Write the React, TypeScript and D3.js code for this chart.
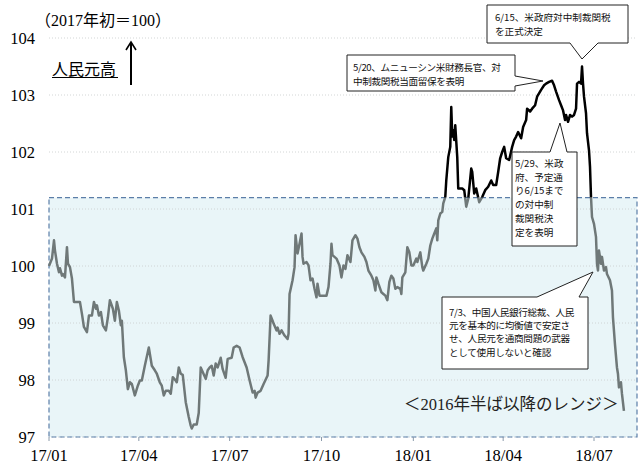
import React from "react";
import * as d3 from "d3";

// ---- data ----
const dates2017 = [
  "2017-01-01","2017-01-04","2017-01-06","2017-01-07","2017-01-09","2017-01-11","2017-01-12","2017-01-14","2017-01-15","2017-01-17",
  "2017-01-19","2017-01-20","2017-01-22","2017-01-24","2017-01-26","2017-02-01","2017-02-03","2017-02-05","2017-02-08","2017-02-10",
  "2017-02-13","2017-02-15","2017-02-17","2017-02-18","2017-02-20","2017-02-22","2017-02-24","2017-02-27","2017-03-01","2017-03-03",
  "2017-03-06","2017-03-08","2017-03-10","2017-03-12","2017-03-14","2017-03-15","2017-03-17","2017-03-19","2017-03-21","2017-03-23",
  "2017-03-25","2017-03-28","2017-03-31","2017-04-02","2017-04-04","2017-04-07","2017-04-11","2017-04-14","2017-04-17","2017-04-19",
  "2017-04-22","2017-04-24","2017-04-26","2017-04-28","2017-05-01","2017-05-03","2017-05-05","2017-05-08","2017-05-09","2017-05-11",
  "2017-05-13","2017-05-15","2017-05-18","2017-05-21","2017-05-23","2017-05-24","2017-05-26","2017-05-29","2017-05-31","2017-06-02",
  "2017-06-04","2017-06-07","2017-06-09","2017-06-11","2017-06-13","2017-06-15","2017-06-17","2017-06-19","2017-06-22","2017-06-24",
  "2017-06-27","2017-06-29","2017-07-03","2017-07-05","2017-07-08","2017-07-11","2017-07-14","2017-07-18","2017-07-21","2017-07-24",
  "2017-07-26","2017-07-27","2017-07-29","2017-08-01","2017-08-04","2017-08-08","2017-08-09","2017-08-11","2017-08-13","2017-08-14",
  "2017-08-17","2017-08-18","2017-08-20","2017-08-22","2017-08-25","2017-08-28","2017-08-29","2017-08-30","2017-09-02","2017-09-04",
  "2017-09-05","2017-09-07","2017-09-09","2017-09-11","2017-09-12","2017-09-13","2017-09-16","2017-09-18","2017-09-20","2017-09-22",
  "2017-09-24","2017-09-26","2017-09-27","2017-09-29","2017-10-06","2017-10-08","2017-10-10","2017-10-11","2017-10-12","2017-10-16",
  "2017-10-19","2017-10-21","2017-10-23","2017-10-25","2017-10-27","2017-10-30","2017-11-01","2017-11-04","2017-11-06","2017-11-08",
  "2017-11-10","2017-11-13","2017-11-15","2017-11-17","2017-11-20","2017-11-22","2017-11-24","2017-11-25","2017-11-27","2017-11-30",
  "2017-12-02","2017-12-04","2017-12-06","2017-12-08","2017-12-10","2017-12-12","2017-12-14","2017-12-16","2017-12-19","2017-12-20",
  "2017-12-21","2017-12-24","2017-12-26","2017-12-28","2017-12-30",
];
const values2017 = [
  100.0,100.13,100.45,100.27,100.04,99.89,99.96,99.83,99.86,99.8,
  100.33,100.04,99.98,99.78,99.37,99.37,99.16,98.93,98.84,99.13,
  99.13,99.37,99.25,99.31,99.13,99.19,98.96,98.87,99.1,99.4,
  99.25,99.04,99.37,99.22,98.96,99.04,98.4,98.17,97.84,97.96,
  97.93,97.73,97.9,97.99,97.99,98.25,98.57,98.25,98.17,98.11,
  97.96,97.9,97.73,97.81,97.81,97.76,98.05,97.99,97.96,98.22,
  98.11,98.09,97.61,97.35,97.2,97.15,97.22,97.22,97.42,98.22,
  98.14,98.02,98.17,98.22,98.25,98.08,98.29,98.22,98.39,98.19,
  98.04,98.37,98.39,98.57,98.6,98.57,98.4,98.22,97.99,97.78,
  97.81,97.69,97.78,97.81,97.93,98.08,98.34,99.13,99.04,98.99,
  98.87,98.92,98.81,98.87,98.78,98.72,98.81,99.51,99.75,99.98,
  100.54,100.22,100.39,100.57,100.16,100.04,100.07,100.01,99.75,99.78,
  99.6,99.45,99.69,99.48,99.48,99.63,100.04,100.39,100.19,100.13,
  100.01,99.8,100.01,99.95,100.19,100.07,100.45,100.54,100.48,100.33,
  100.24,100.16,100.07,99.92,99.83,99.75,99.57,99.8,99.69,99.54,
  99.51,99.48,99.4,99.72,99.83,99.78,99.6,99.63,99.6,99.51,
  99.8,99.89,100.33,100.24,100.01,
];
const dates2018 = [
  "2018-01-01","2018-01-04","2018-01-05","2018-01-08","2018-01-10","2018-01-11","2018-01-14","2018-01-16","2018-01-18","2018-01-20",
  "2018-01-22","2018-01-24","2018-01-25","2018-01-26","2018-01-28","2018-01-30","2018-01-31","2018-02-02","2018-02-03","2018-02-05",
  "2018-02-07","2018-02-08","2018-02-09","2018-02-10","2018-02-11","2018-02-12","2018-02-14","2018-02-15","2018-02-19","2018-02-21",
  "2018-02-23","2018-02-25","2018-02-28","2018-03-01","2018-03-03","2018-03-05","2018-03-08","2018-03-11","2018-03-14","2018-03-17",
  "2018-03-20","2018-03-22","2018-03-25","2018-03-27","2018-03-29","2018-03-31","2018-04-02","2018-04-04","2018-04-07","2018-04-10",
  "2018-04-12","2018-04-14","2018-04-16","2018-04-19","2018-04-21","2018-04-24","2018-04-25","2018-04-28","2018-04-30","2018-05-03",
  "2018-05-05","2018-05-09","2018-05-12","2018-05-14","2018-05-17","2018-05-20","2018-05-22","2018-05-24","2018-05-27","2018-05-29",
  "2018-05-31","2018-06-02","2018-06-03","2018-06-05","2018-06-07","2018-06-09","2018-06-11","2018-06-13","2018-06-14","2018-06-16",
  "2018-06-18","2018-06-19","2018-06-20","2018-06-21","2018-06-23","2018-06-24","2018-06-26","2018-06-27","2018-06-28","2018-06-29",
  "2018-07-01","2018-07-03","2018-07-04","2018-07-05","2018-07-06","2018-07-08","2018-07-09","2018-07-11","2018-07-13","2018-07-14",
  "2018-07-17","2018-07-19","2018-07-20","2018-07-22","2018-07-24","2018-07-25","2018-07-26","2018-07-28","2018-07-29","2018-07-31",
];
const values2018 = [
  100.01,100.13,100.07,100.24,99.98,99.92,100.04,100.13,100.36,100.48,
  100.57,100.66,100.45,100.8,100.92,100.95,101.1,101.21,101.5,101.91,
  102.09,102.79,102.27,102.38,102.21,102.47,101.91,101.36,101.36,101.33,
  101.04,101.18,101.71,101.65,101.27,101.36,101.12,101.21,101.33,101.39,
  101.5,101.42,101.42,101.65,101.89,102.0,102.09,101.89,101.86,102.09,
  102.21,102.27,102.35,102.24,102.44,102.56,102.76,102.71,102.76,102.82,
  102.97,103.09,103.17,103.2,103.23,103.25,103.17,103.06,102.91,102.82,
  102.73,102.56,102.65,102.53,102.65,102.62,102.65,102.76,103.2,103.23,
  103.2,103.5,103.2,102.97,102.68,102.33,102.03,101.74,101.21,100.86,
  100.74,100.51,100.04,99.92,100.27,100.04,100.16,99.92,99.98,99.86,
  99.75,99.57,99.1,98.63,98.22,98.11,97.87,97.96,97.76,97.46,
];
const yTicks = [97, 98, 99, 100, 101, 102, 103, 104];
const xTickDates = ["2017-01-01","2017-04-01","2017-07-01","2017-10-01","2018-01-01","2018-04-01","2018-07-01"];
const rangeLow = 97;
const rangeHigh = 101.2;

const unitLabel = "（2017年初＝100）";
const directionLabel = "人民元高";
const rangeLabel = "＜2016年半ば以降のレンジ＞";
const note615 = ["6/15、米政府対中制裁関税", "を正式決定"];
const note520 = ["5/20、ムニューシン米財務長官、対", "中制裁関税当面留保を表明"];
const note529 = ["5/29、米政", "府、予定通", "り6/15まで", "の対中制", "裁関税決", "定を表明"];
const note703 = ["7/3、中国人民銀行総裁、人民", "元を基本的に均衡値で安定さ", "せ、人民元を通商問題の武器", "として使用しないと確認"];

const parse = d3.timeParse("%Y-%m-%d");
const series = [
  ...dates2017.map((d, i) => ({ date: parse(d) as Date, value: values2017[i] })),
  ...dates2018.map((d, i) => ({ date: parse(d) as Date, value: values2018[i] })),
];

const W = 638, H = 464;
const LEFT = 49, RIGHT = 637;
const SERIF = "'Liberation Serif', 'Times New Roman', serif";
const CJK = "'Noto Sans CJK JP', sans-serif";

function callout(box: [number, number, number, number], side: string, b1: number, b2: number, tip: [number, number]) {
  const [x0, y0, x1, y1] = box;
  if (side === "bottom")
    return `M${x0},${y0}H${x1}V${y1}H${b2}L${tip[0]},${tip[1]}L${b1},${y1}H${x0}Z`;
  if (side === "right")
    return `M${x0},${y0}H${x1}V${b1}L${tip[0]},${tip[1]}L${x1},${b2}V${y1}H${x0}Z`;
  return `M${x0},${y0}H${b1}L${tip[0]},${tip[1]}L${b2},${y0}H${x1}V${y1}H${x0}Z`;
}

// split into runs: ASCII digits in serif, other chars in CJK font
function mixedRuns(s: string) {
  const runs: { t: string; ascii: boolean }[] = [];
  for (const ch of s) {
    const ascii = ch.charCodeAt(0) < 128;
    const last = runs[runs.length - 1];
    if (last && last.ascii === ascii) last.t += ch;
    else runs.push({ t: ch, ascii });
  }
  return runs;
}

function MixedText(props: { x: number; y: number; size: number; text: string; fill: string }) {
  return (
    <text x={props.x} y={props.y} fontSize={props.size} fill={props.fill}>
      {mixedRuns(props.text).map((r, i) => (
        <tspan key={i} fontFamily={r.ascii ? SERIF : CJK}>{r.t}</tspan>
      ))}
    </text>
  );
}

export default function App() {
  const x = d3.scaleTime().domain([parse("2017-01-01") as Date, parse("2018-07-01") as Date]).range([LEFT, 594]);
  const y = d3.scaleLinear().domain([97, 104]).range([437, 38]);
  const line = d3.line<{ date: Date; value: number }>().x((d) => x(d.date)).y((d) => y(d.value));
  const path = line(series) || "";
  const yTop = y(rangeHigh);

  const notes = [
    { lines: note615, d: callout([487, 5, 628, 43], "bottom", 570, 598, [582, 59]), tx: 495, ty: 21, lh: 14, ls: 0 },
    { lines: note520, d: callout([347, 55, 515, 91], "right", 76, 86, [543, 81]), tx: 353, ty: 71, lh: 14, ls: -0.35 },
    { lines: note529, d: callout([512, 152, 577, 246], "top", 550, 567, [560, 123]), tx: 515, ty: 167, lh: 13.7, ls: 0 },
    { lines: note703, d: callout([442, 297, 588, 369], "top", 537, 579, [593, 272]), tx: 449, ty: 315.5, lh: 13.4, ls: -0.3 },
  ];

  return (
    <svg width={W} height={H} style={{ position: "absolute", left: 0, top: 0, background: "#fff" }}>
      <defs>
        <clipPath id="above"><rect x={0} y={0} width={W} height={yTop} /></clipPath>
        <clipPath id="below"><rect x={0} y={yTop} width={W} height={H - yTop} /></clipPath>
      </defs>
      {/* range band */}
      <rect x={LEFT} y={yTop} width={RIGHT - LEFT} height={y(rangeLow) - yTop} fill="#e9f5f8" />
      {/* gridlines */}
      {yTicks.map((t) => (
        <line key={t} x1={LEFT} x2={RIGHT} y1={y(t)} y2={y(t)} stroke="#c8cccc" strokeWidth={0.8} strokeDasharray="1,2" />
      ))}
      {/* band dashed border */}
      <rect x={LEFT} y={yTop} width={RIGHT - LEFT} height={y(rangeLow) - yTop} fill="none" stroke="#5b7ea8" strokeWidth={1.2} strokeDasharray="5,3" />
      {/* x ticks */}
      {xTickDates.map((d) => {
        const xx = x(parse(d) as Date);
        return (
          <g key={d}>
            <line x1={xx} x2={xx} y1={437} y2={441} stroke="#8a9aaa" strokeWidth={1} />
            <text x={xx} y={461} textAnchor="middle" fontFamily={SERIF} fontSize={16.5} fill="#000">
              {d3.timeFormat("%y/%m")(parse(d) as Date)}
            </text>
          </g>
        );
      })}
      {/* y labels */}
      {yTicks.map((t) => (
        <text key={t} x={35} y={y(t)} dy="0.35em" textAnchor="end" fontFamily={SERIF} fontSize={16.5} fill="#000">{t}</text>
      ))}
      {/* series */}
      <path d={path} fill="none" stroke="#6f7878" strokeWidth={2.5} strokeLinejoin="round" clipPath="url(#below)" />
      <path d={path} fill="none" stroke="#000" strokeWidth={2.5} strokeLinejoin="round" clipPath="url(#above)" />
      {/* header labels */}
      <MixedText x={35} y={26} size={16} text={unitLabel} fill="#000" />
      <text x={52} y={75} fontFamily={CJK} fontSize={16} fill="#000">{directionLabel}</text>
      <line x1={52} x2={118} y1={77.5} y2={77.5} stroke="#000" strokeWidth={1} />
      <line x1={131} x2={131} y1={85} y2={43} stroke="#000" strokeWidth={2} />
      <path d="M126,50L131,42L136,50" fill="none" stroke="#000" strokeWidth={1.6} />
      <MixedText x={404} y={410} size={16.5} text={rangeLabel} fill="#222" />
      {/* callouts */}
      {notes.map((n, i) => (
        <g key={i}>
          <path d={n.d} fill="#fff" stroke="#222" strokeWidth={1} />
          {n.lines.map((l, j) => (
            <text key={j} x={n.tx} y={n.ty + j * n.lh} fontFamily={CJK} fontSize={9.6} letterSpacing={n.ls} fill="#111">{l}</text>
          ))}
        </g>
      ))}
    </svg>
  );
}
